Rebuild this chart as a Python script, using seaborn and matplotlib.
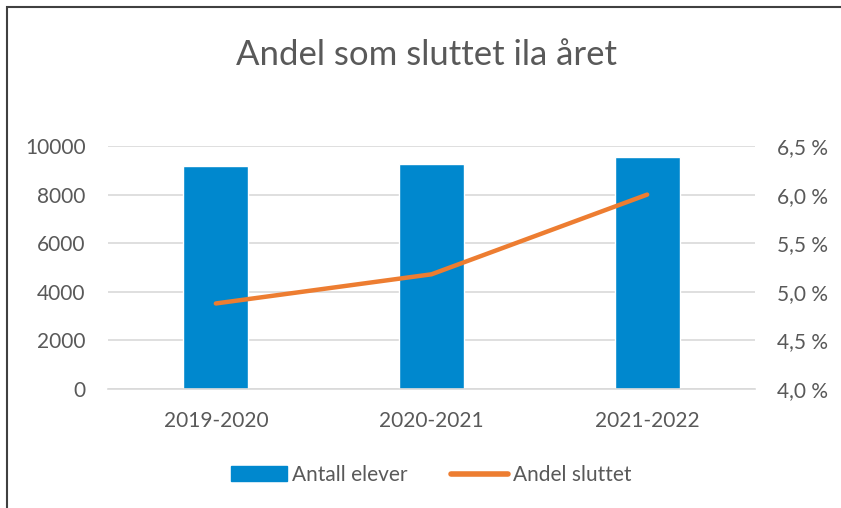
import numpy as np
import pandas as pd
import matplotlib.pyplot as plt
import matplotlib.patches as mpatches
from matplotlib.lines import Line2D
from matplotlib.ticker import FuncFormatter
import seaborn as sns

years = ["2019-2020", "2020-2021", "2021-2022"]
antall_elever = [9180, 9250, 9550]
andel_sluttet = [4.88, 5.18, 6.00]

df = pd.DataFrame({"year": years, "antall": antall_elever, "andel": andel_sluttet})

sns.set_style("white")
plt.rcParams["font.family"] = ["Lato", "DejaVu Sans"]

text_col = "#595959"
grid_col = "#D9D9D9"
bar_col = "#0088CE"
line_col = "#ED7D31"

fig = plt.figure(figsize=(8.41, 5.08), dpi=100)
ax = fig.add_axes([108 / 841, 1 - 389 / 508, (755 - 108) / 841, (389 - 146) / 508])

sns.barplot(data=df, x="year", y="antall", color=bar_col, width=0.30,
            saturation=1, ax=ax, zorder=2)
ax.set_ylim(0, 10000)
ax.set_yticks(np.arange(0, 10001, 2000))
ax.set_xlim(-0.5, 2.5)
ax.yaxis.grid(True, color=grid_col, linewidth=1.2, zorder=0)
ax.set_axisbelow(True)
ax.set_xlabel("")
ax.set_ylabel("")

ax2 = ax.twinx()
sns.pointplot(data=df, x="year", y="andel", color=line_col, markers="",
              linewidth=3.2, ax=ax2, errorbar=None)
ax2.set_ylim(4.0, 6.5)
ax2.set_yticks(np.arange(4.0, 6.51, 0.5))
ax2.yaxis.set_major_formatter(FuncFormatter(lambda v, p: f"{v:.1f} %".replace(".", ",")))
ax2.set_xlim(-0.5, 2.5)
ax2.set_ylabel("")
ax2.set_xlabel("")
for l in ax2.lines:
    l.set_solid_capstyle("round")

for a in (ax, ax2):
    for s in a.spines.values():
        s.set_visible(False)
    a.tick_params(length=0, labelsize=15, labelcolor=text_col)
ax.spines["bottom"].set_visible(True)
ax.spines["bottom"].set_color(grid_col)
ax.spines["bottom"].set_linewidth(1.2)
ax.tick_params(axis="y", pad=16)
ax2.tick_params(axis="y", pad=16)
ax.tick_params(axis="x", pad=16)

fig.text(426 / 841, 1 - 55 / 508, "Andel som sluttet ila året", ha="center", va="center",
         fontsize=25, color=text_col, fontweight="normal")

handles = [mpatches.Patch(color=bar_col, label="Antall elever"),
           Line2D([0], [0], color=line_col, linewidth=4, solid_capstyle="round", label="Andel sluttet")]
fig.legend(handles=handles, loc="center", bbox_to_anchor=(431 / 841, 1 - 475 / 508), ncol=2,
           frameon=False, fontsize=15, labelcolor=text_col, handlelength=2.7,
           handletextpad=0.25, columnspacing=2.1, handleheight=0.7)

fig.patches.append(mpatches.Rectangle((7 / 841, -0.1), 1.2, 1 - 7 / 508 + 0.1,
                                      transform=fig.transFigure, fill=False,
                                      edgecolor="#404040", linewidth=1.5))

fig.savefig("out.png", dpi=100)
